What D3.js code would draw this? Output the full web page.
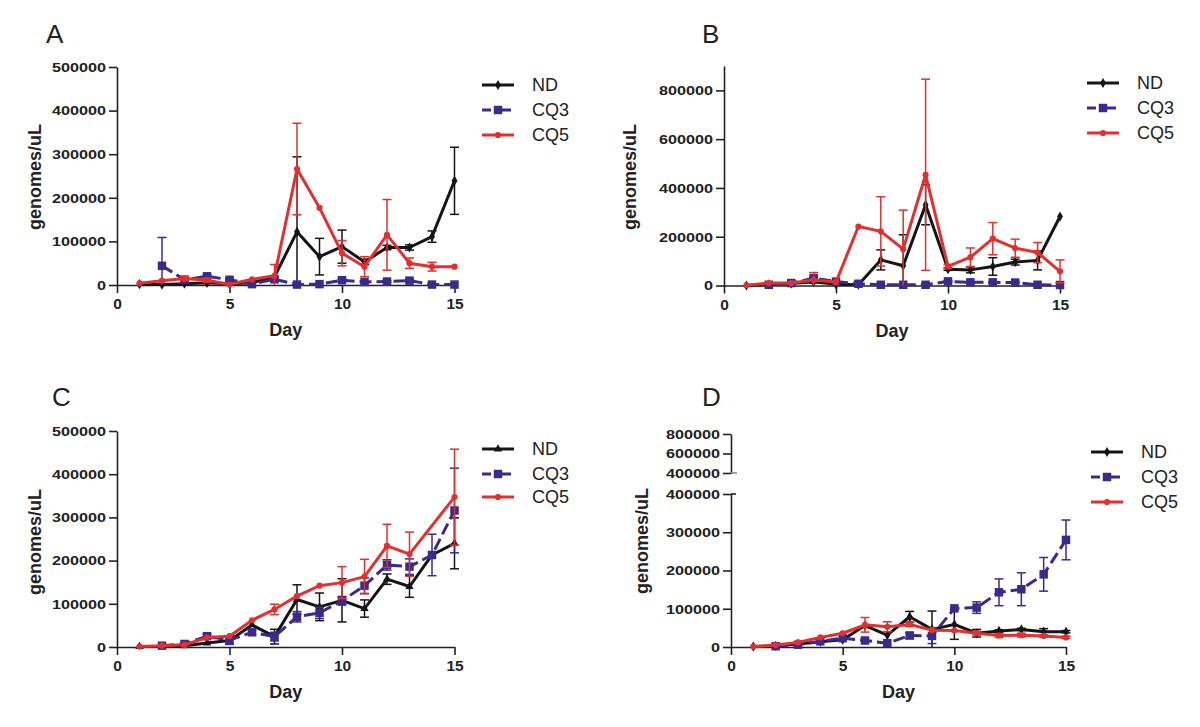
<!DOCTYPE html>
<html>
<head>
<meta charset="utf-8">
<script src="https://cdn.jsdelivr.net/npm/d3@7/dist/d3.min.js"></script>
<style>
  html, body { margin: 0; padding: 0; background: #fff; }
  svg { display: block; }
  text { font-family: "Liberation Sans", Arial, sans-serif; }
</style>
</head>
<body>
<svg id="chart" width="1200" height="727"></svg>
<script>
// ---------------- DATA ----------------
const days = [1, 2, 3, 4, 5, 6, 7, 8, 9, 10, 11, 12, 13, 14, 15];
const seriesNames = ["ND", "CQ3", "CQ5"];
const xTicks = [0, 5, 10, 15];

// Panel A
const ndA     = [2000, 1000, 3000, 5000, 3000, 5000, 19000, 122000, 65000, 88000, 53000, 86000, 86000, 111000, 239000];
const ndAErr  = [0, 0, 0, 0, 0, 0, 0, 172000, 42000, 38000, 6000, 5000, 6000, 13000, 77000];
const cq3A    = [null, 44000, 12000, 20000, 12000, 2000, 13000, 1000, 2000, 11000, 7000, 8000, 10000, 1000, 1000];
const cq3AErr = [0, 65000, 5000, 3000, 3000, 0, 5000, 0, 0, 3000, 2000, 2000, 3000, 0, 0];
const cq5A    = [4000, 10000, 15000, 11000, 1000, 13000, 21000, 266000, 177000, 73000, 42000, 115000, 50000, 42000, 42000];
const cq5AErr = [0, 0, 5000, 5000, 0, 0, 26000, 105000, 0, 29000, 23000, 81000, 12000, 10000, 0];
const yTicksA = [0, 100000, 200000, 300000, 400000, 500000];

// Panel B
const ndB     = [0, 5000, 8000, 15000, 5000, 3000, 105000, 81000, 331000, 67000, 64000, 78000, 96000, 103000, 283000];
const ndBErr  = [0, 0, 0, 5000, 0, 0, 41000, 127000, 82000, 5000, 12000, 36000, 12000, 39000, 0];
const cq3B    = [null, 3000, 10000, 30000, 16000, 7000, 3000, 3000, 3000, 17000, 13000, 13000, 12000, 3000, 2000];
const cq3BErr = [0, 0, 0, 5000, 0, 0, 0, 0, 0, 3000, 2000, 2000, 2000, 0, 0];
const cq5B    = [1000, 10000, 10000, 23000, 14000, 242000, 222000, 149000, 454000, 78000, 116000, 192000, 153000, 135000, 58000];
const cq5BErr = [0, 0, 0, 30000, 0, 0, 142000, 160000, 392000, 8000, 38000, 66000, 37000, 41000, 47000];
const yTicksB = [0, 200000, 400000, 600000, 800000];

// Panel C
const ndC     = [1000, 1000, 3000, 9000, 15000, 51000, 24000, 110000, 93000, 108000, 89000, 157000, 140000, 213000, 240000];
const ndCErr  = [0, 0, 0, 0, 0, 0, 17000, 34000, 32000, 50000, 20000, 12000, 25000, 0, 59000];
const cq3C    = [null, 3000, 7000, 25000, 16000, 34000, 24000, 70000, 79000, 107000, 142000, 190000, 186000, 213000, 316000];
const cq3CErr = [0, 0, 0, 5000, 10000, 5000, 10000, 12000, 13000, 10000, 18000, 12000, 18000, 48000, 98000];
const cq5C    = [1000, 3000, 5000, 22000, 25000, 62000, 87000, 118000, 142000, 149000, 163000, 234000, 215000, null, 347000];
const cq5CErr = [0, 0, 0, 0, 0, 0, 12000, 0, 0, 37000, 40000, 50000, 51000, 0, 111000];
const yTicksC = [0, 100000, 200000, 300000, 400000, 500000];

// Panel D
const ndD     = [1000, 3000, 8000, 14000, 19000, 56000, 31000, 79000, 46000, 59000, 36000, 42000, 46000, 40000, 40000];
const ndDErr  = [0, 0, 0, 0, 0, 0, 0, 14000, 48000, 39000, 10000, 3000, 3000, 8000, 3000];
const cq3D    = [null, 2000, 6000, 15000, 23000, 17000, 10000, 30000, 29000, 101000, 103000, 143000, 151000, 190000, 280000];
const cq3DErr = [0, 0, 0, 0, 0, 0, 0, 8000, 20000, 0, 15000, 35000, 43000, 44000, 52000];
const cq5D    = [1000, 5000, 12000, 25000, 36000, 58000, 53000, 59000, 44000, 43000, 36000, 30000, 31000, 29000, 25000];
const cq5DErr = [0, 0, 0, 0, 0, 19000, 13000, 5000, 0, 0, 5000, 5000, 5000, 3000, 3000];
const yTicksDLow  = [0, 100000, 200000, 300000, 400000];
const yTicksDHigh = [400000, 600000, 800000];

// ---------------- STYLE ----------------
const colors = { ND: "#151515", CQ3: "#3a2a8c", CQ5: "#e2302e" };
const dashes = { ND: null, CQ3: "12,5", CQ5: null };

const svg = d3.select("#chart");

function markerPath(shape) {
  if (shape === "diamond") return d3.symbol(d3.symbolDiamond, 30)();
  if (shape === "triangle") return d3.symbol(d3.symbolTriangle, 30)();
  if (shape === "square") return d3.symbol(d3.symbolSquare, 72)();
  return d3.symbol(d3.symbolCircle, 30)();
}

function drawPanel(cfg) {
  const g = svg.append("g");
  const x = d3.scaleLinear().domain([0, 15]).range([cfg.x0, cfg.x1]);
  const y = d3.scaleLinear().domain(cfg.yDomain).range([cfg.y0, cfg.yTop]);

  // panel letter
  g.append("text").attr("x", cfg.letterX).attr("y", cfg.letterY)
    .attr("font-family", "'Open Sans', 'Noto Sans', sans-serif")
    .attr("font-size", 26).attr("fill", "#222").text(cfg.letter);

  // x axis
  const xa = g.append("g").attr("transform", `translate(0,${cfg.y0})`)
    .call(d3.axisBottom(x).tickValues(xTicks).tickSize(8).tickSizeOuter(0).tickPadding(5));
  xa.select(".domain").attr("stroke", "#222").attr("stroke-width", 1.6);
  xa.selectAll(".tick line").attr("stroke", "#222").attr("stroke-width", 1.6);
  xa.selectAll("text").attr("font-size", 15.5).attr("font-weight", "bold").attr("fill", "#222")
    .attr("font-family", "'Liberation Sans', Arial, sans-serif");

  // y axis
  function yAxis(scale, ticks) {
    const ya = g.append("g").attr("transform", `translate(${cfg.x0},0)`)
      .call(d3.axisLeft(scale).tickValues(ticks).tickSize(8).tickSizeOuter(0).tickPadding(3)
        .tickFormat(d3.format("d")));
    ya.select(".domain").attr("stroke", "#222").attr("stroke-width", 1.6);
    ya.selectAll(".tick line").attr("stroke", "#222").attr("stroke-width", 1.6);
    ya.selectAll("text").attr("font-size", 13.5).attr("font-weight", "bold").attr("fill", "#222")
      .attr("font-family", "'Liberation Sans', Arial, sans-serif")
      .attr("x", -11 / 1.2).attr("transform", "scale(1.2,1)");
    return ya;
  }
  yAxis(y, cfg.yTicks);

  if (cfg.broken) {
    const yHigh = d3.scaleLinear().domain([400000, 800000]).range([cfg.highBottom, cfg.highTop]);
    yAxis(yHigh, yTicksDHigh);
    g.append("line").attr("x1", cfg.x0).attr("x2", cfg.x0 + 6)
      .attr("y1", yHigh(400000)).attr("y2", yHigh(400000))
      .attr("stroke", "#888").attr("stroke-width", 1.6);
    g.append("line").attr("x1", cfg.x0).attr("x2", cfg.x0 + 5)
      .attr("y1", y(400000)).attr("y2", y(400000))
      .attr("stroke", "#222").attr("stroke-width", 1.6);
  }

  // axis titles
  g.append("text").attr("x", (cfg.x0 + cfg.x1) / 2).attr("y", cfg.y0 + 51)
    .attr("text-anchor", "middle").attr("font-size", 18).attr("font-weight", "bold")
    .attr("fill", "#222").text("Day");
  g.append("text")
    .attr("transform", `translate(${cfg.titleX},${cfg.titleY}) rotate(-90)`)
    .attr("text-anchor", "middle").attr("dominant-baseline", "central")
    .attr("font-size", 18).attr("font-weight", "bold").attr("fill", "#222")
    .text("genomes/uL");

  const yMin = cfg.yDomain[0];
  // series
  cfg.series.forEach(s => {
    const pts = days.map((d, i) => ({ d, v: s.values[i], e: s.errs[i] })).filter(p => p.v !== null);
    const col = colors[s.name];
    // error bars
    const eg = g.append("g");
    pts.filter(p => p.e > 0).forEach(p => {
      const top = y(p.v + p.e), bot = y(Math.max(yMin, p.v - p.e));
      const cx = x(p.d);
      eg.append("line").attr("x1", cx).attr("x2", cx).attr("y1", top).attr("y2", bot)
        .attr("stroke", col).attr("stroke-width", 1.5);
      eg.append("line").attr("x1", cx - 4.5).attr("x2", cx + 4.5).attr("y1", top).attr("y2", top)
        .attr("stroke", col).attr("stroke-width", 1.5);
      if (p.v - p.e > yMin)
        eg.append("line").attr("x1", cx - 4.5).attr("x2", cx + 4.5).attr("y1", bot).attr("y2", bot)
          .attr("stroke", col).attr("stroke-width", 1.5);
    });
    // line
    g.append("path").datum(pts)
      .attr("d", d3.line().x(p => x(p.d)).y(p => y(p.v)))
      .attr("fill", "none").attr("stroke", col).attr("stroke-width", 3)
      .attr("stroke-dasharray", dashes[s.name]).attr("stroke-linejoin", "round");
    // markers
    g.append("g").selectAll("path").data(pts).join("path")
      .attr("transform", p => `translate(${x(p.d)},${y(p.v)})`)
      .attr("d", markerPath(s.shape)).attr("fill", col);
  });

  // legend
  const lg = g.append("g");
  cfg.series.forEach((s, i) => {
    const ly = cfg.legendY[i];
    const col = colors[s.name];
    lg.append("line").attr("x1", cfg.legendX).attr("x2", cfg.legendX + 32)
      .attr("y1", ly).attr("y2", ly).attr("stroke", col).attr("stroke-width", 3)
      .attr("stroke-dasharray", s.name === "CQ3" ? "9,4,3,4,9" : null);
    lg.append("path").attr("transform", `translate(${cfg.legendX + 16},${ly})`)
      .attr("d", markerPath(s.shape)).attr("fill", col);
    lg.append("text").attr("x", cfg.legendX + 50).attr("y", ly)
      .attr("dominant-baseline", "central").attr("font-size", 18).attr("fill", "#222")
      .text(s.name);
  });
}

drawPanel({
  letter: "A", letterX: 46, letterY: 43,
  x0: 117, x1: 454.5, y0: 285, yTop: 67, yDomain: [0, 500000], yTicks: yTicksA,
  titleX: 35, titleY: 177,
  legendX: 482, legendY: [85, 110, 135],
  series: [
    { name: "ND", values: ndA, errs: ndAErr, shape: "diamond" },
    { name: "CQ3", values: cq3A, errs: cq3AErr, shape: "square" },
    { name: "CQ5", values: cq5A, errs: cq5AErr, shape: "circle" }
  ]
});

drawPanel({
  letter: "B", letterX: 702, letterY: 43,
  x0: 724, x1: 1060, y0: 285.5, yTop: 66, yDomain: [0, 900000], yTicks: yTicksB,
  titleX: 630, titleY: 177,
  legendX: 1087, legendY: [83, 108, 133],
  series: [
    { name: "ND", values: ndB, errs: ndBErr, shape: "diamond" },
    { name: "CQ3", values: cq3B, errs: cq3BErr, shape: "square" },
    { name: "CQ5", values: cq5B, errs: cq5BErr, shape: "circle" }
  ]
});

drawPanel({
  letter: "C", letterX: 52, letterY: 406,
  x0: 117, x1: 454.5, y0: 647, yTop: 431, yDomain: [0, 500000], yTicks: yTicksC,
  titleX: 35, titleY: 542,
  legendX: 482, legendY: [449, 474, 497],
  series: [
    { name: "ND", values: ndC, errs: ndCErr, shape: "triangle" },
    { name: "CQ3", values: cq3C, errs: cq3CErr, shape: "square" },
    { name: "CQ5", values: cq5C, errs: cq5CErr, shape: "circle" }
  ]
});

drawPanel({
  letter: "D", letterX: 702, letterY: 406,
  x0: 731, x1: 1066, y0: 647, yTop: 494, yDomain: [0, 400000], yTicks: yTicksDLow,
  broken: true, highBottom: 473, highTop: 434,
  titleX: 642, titleY: 541,
  legendX: 1091, legendY: [452, 477, 502],
  series: [
    { name: "ND", values: ndD, errs: ndDErr, shape: "diamond" },
    { name: "CQ3", values: cq3D, errs: cq3DErr, shape: "square" },
    { name: "CQ5", values: cq5D, errs: cq5DErr, shape: "circle" }
  ]
});
</script>
</body>
</html>
